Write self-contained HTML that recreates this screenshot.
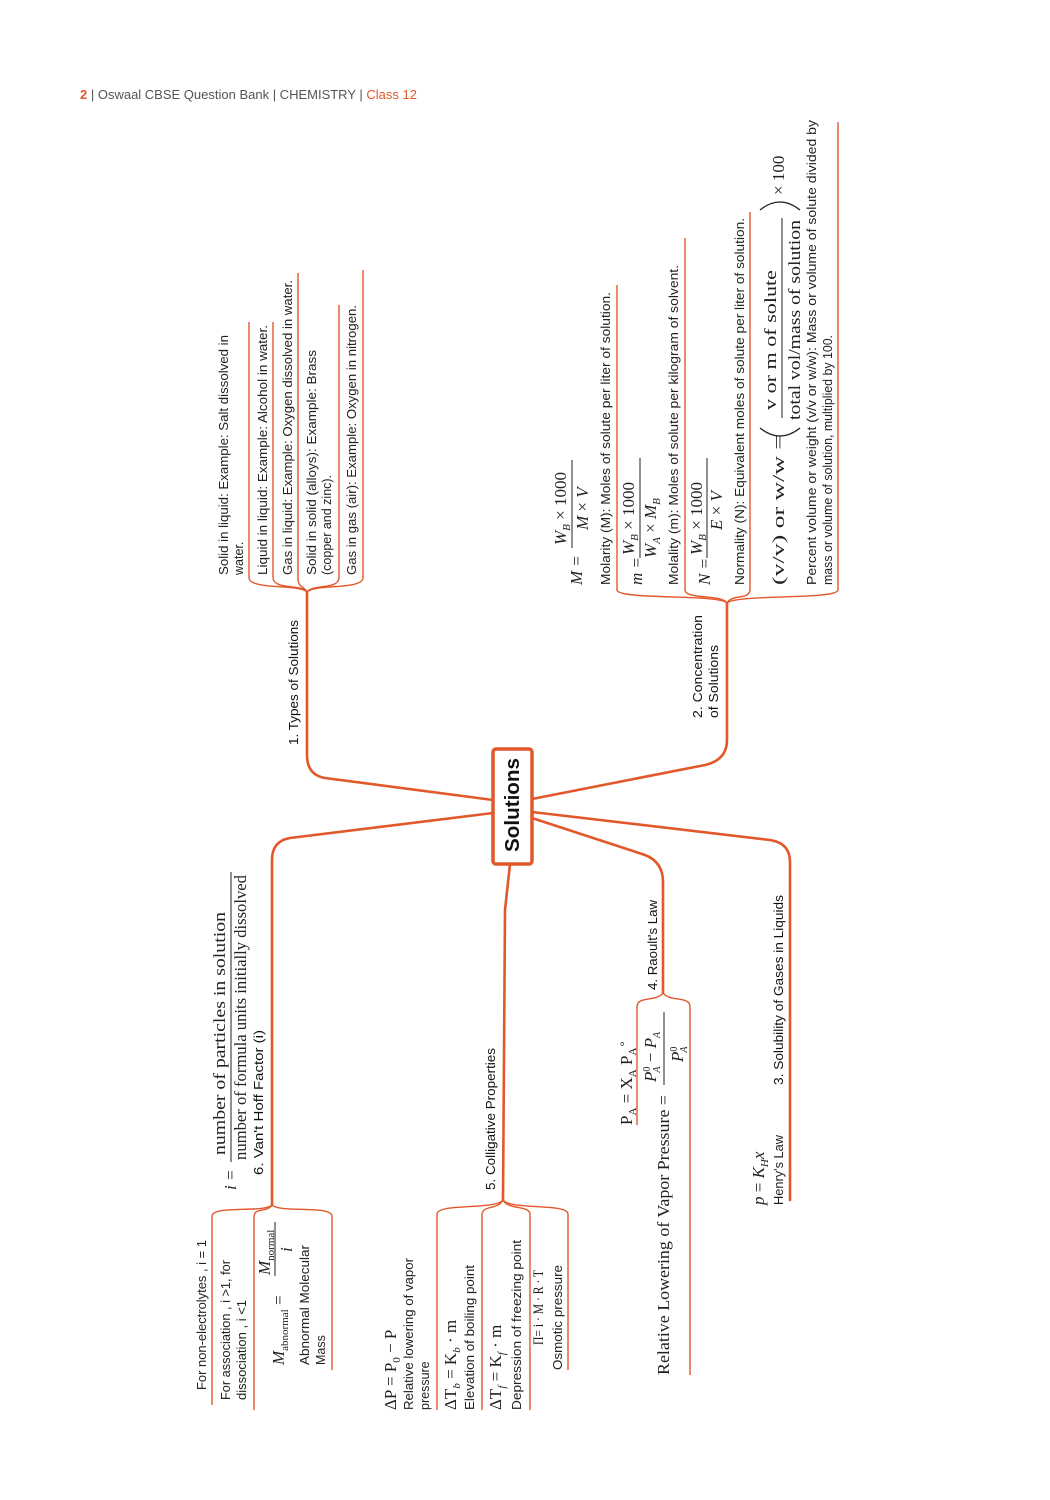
<!DOCTYPE html>
<html><head><meta charset="utf-8"><style>
body{margin:0;background:#fff;}
svg{display:block;}
.s{font-family:"Liberation Sans",sans-serif;font-size:12.5px;fill:#222;}
.b{font-family:"Liberation Sans",sans-serif;font-size:13px;fill:#111;}
.m{font-family:"Liberation Serif",serif;font-size:17px;fill:#222;}
.mi{font-family:"Liberation Serif",serif;font-size:17px;font-style:italic;fill:#222;}
.c{fill:none;stroke:#e2582b;stroke-width:2.6;stroke-linecap:round;}
.t{fill:none;stroke:#e2582b;stroke-width:1.4;}
.bar{stroke:#222;stroke-width:1;}
</style></head><body>
<svg width="1050" height="1500" viewBox="0 0 1050 1500" xmlns="http://www.w3.org/2000/svg">
<text x="80" y="99" font-family="Liberation Sans,sans-serif" font-size="13" fill="#555"><tspan fill="#e2582b" font-weight="bold">2</tspan> | Oswaal CBSE Question Bank | CHEMISTRY | <tspan fill="#e2582b">Class 12</tspan></text>

<path class="c" d="M493 800 L325 778 Q307 775 307 755 L307 592"/>
<path class="c" d="M493 813 L290 838 Q272 841 272 860 L272 1205"/>
<path class="c" d="M532 799 L705 765 Q727 760 727 740 L727 603"/>
<path class="c" d="M532 812 L770 840 Q790 843 790 862 L790 1200"/>
<path class="c" d="M532 818 L645 855 Q663 862 663 882 L663 993"/>
<path class="c" d="M510 864 L505 910 L503 1200"/>

<rect x="493" y="749" width="39" height="115" rx="3" fill="#fff" stroke="#e2582b" stroke-width="3.5"/>
<text transform="translate(519 852) rotate(-90)" font-family="Liberation Sans,sans-serif" font-weight="bold" font-size="20" fill="#111" textLength="94" lengthAdjust="spacingAndGlyphs">Solutions</text>

<text class="b" transform="translate(298 745) rotate(-90)" textLength="125" lengthAdjust="spacingAndGlyphs">1. Types of Solutions</text>
<g class="t">
<path d="M307 592 C300 584 250 590 249 578 L249 322"/>
<path d="M307 592 C302 584 274 590 273 578 L273 322"/>
<path d="M307 592 C304 586 298 588 298 578 L298 273"/>
<path d="M307 592 C312 584 338 590 339 578 L339 305"/>
<path d="M307 592 C314 584 362 590 363 578 L363 270"/>
</g>
<text class="s" transform="translate(228 575) rotate(-90)" textLength="240" lengthAdjust="spacingAndGlyphs">Solid in liquid: Example: Salt dissolved in</text>
<text class="s" transform="translate(243 575) rotate(-90)">water.</text>
<text class="s" transform="translate(267 575) rotate(-90)" textLength="250" lengthAdjust="spacingAndGlyphs">Liquid in liquid: Example: Alcohol in water.</text>
<text class="s" transform="translate(292 575) rotate(-90)" textLength="295" lengthAdjust="spacingAndGlyphs">Gas in liquid: Example: Oxygen dissolved in water.</text>
<text class="s" transform="translate(316 575) rotate(-90)" textLength="225" lengthAdjust="spacingAndGlyphs">Solid in solid (alloys): Example: Brass</text>
<text class="s" transform="translate(331 575) rotate(-90)">(copper and zinc).</text>
<text class="s" transform="translate(356 575) rotate(-90)" textLength="270" lengthAdjust="spacingAndGlyphs">Gas in gas (air): Example: Oxygen in nitrogen.</text>

<text class="b" transform="translate(702 718) rotate(-90)" textLength="103" lengthAdjust="spacingAndGlyphs">2. Concentration</text>
<text class="b" transform="translate(718 718) rotate(-90)" textLength="73" lengthAdjust="spacingAndGlyphs">of Solutions</text>
<g class="t">
<path d="M727 603 C720 594 618 600 617 590 L617 285"/>
<path d="M727 603 C722 594 686 600 685 590 L685 238"/>
<path d="M727 603 C732 594 749 600 750 590 L750 212"/>
<path d="M727 603 C736 594 837 600 838 590 L838 122"/>
</g>
<text class="mi" transform="translate(582 585) rotate(-90)">M =</text>
<text class="mi" transform="translate(566 545) rotate(-90)">W<tspan font-size="11" dy="4">B</tspan><tspan dy="-4" font-style="normal"> × 1000</tspan></text>
<line class="bar" x1="572" y1="548" x2="572" y2="460"/>
<text class="mi" transform="translate(588 530) rotate(-90)">M <tspan font-style="normal">×</tspan> V</text>
<text class="s" transform="translate(610 585) rotate(-90)" textLength="293" lengthAdjust="spacingAndGlyphs">Molarity (M): Moles of solute per liter of solution.</text>
<text class="mi" transform="translate(642 585) rotate(-90)">m =</text>
<text class="mi" transform="translate(634 555) rotate(-90)">W<tspan font-size="11" dy="4">B</tspan><tspan dy="-4" font-style="normal"> × 1000</tspan></text>
<line class="bar" x1="640" y1="558" x2="640" y2="458"/>
<text class="mi" transform="translate(656 558) rotate(-90)">W<tspan font-size="11" dy="4">A</tspan><tspan dy="-4" font-style="normal"> × </tspan>M<tspan font-size="11" dy="4">B</tspan></text>
<text class="s" transform="translate(678 585) rotate(-90)" textLength="320" lengthAdjust="spacingAndGlyphs">Molality (m): Moles of solute per kilogram of solvent.</text>
<text class="mi" transform="translate(710 585) rotate(-90)">N =</text>
<text class="mi" transform="translate(702 555) rotate(-90)">W<tspan font-size="11" dy="4">B</tspan><tspan dy="-4" font-style="normal"> × 1000</tspan></text>
<line class="bar" x1="707" y1="558" x2="707" y2="458"/>
<text class="mi" transform="translate(722 530) rotate(-90)">E <tspan font-style="normal">×</tspan> V</text>
<text class="s" transform="translate(744 585) rotate(-90)" textLength="367" lengthAdjust="spacingAndGlyphs">Normality (N): Equivalent moles of solute per liter of solution.</text>
<text class="m" transform="translate(784 585) rotate(-90)" textLength="150" lengthAdjust="spacingAndGlyphs">(v/v) or w/w =</text>
<path d="M760 428 Q780 444 800 428" fill="none" stroke="#222" stroke-width="1.3"/>
<text class="m" transform="translate(776 410) rotate(-90)" textLength="140" lengthAdjust="spacingAndGlyphs">v or m of solute</text>
<line class="bar" x1="782" y1="418" x2="782" y2="218"/>
<text class="m" transform="translate(800 420) rotate(-90)" textLength="200" lengthAdjust="spacingAndGlyphs">total vol/mass of solution</text>
<path d="M760 210 Q780 194 800 210" fill="none" stroke="#222" stroke-width="1.3"/>
<text class="m" transform="translate(784 195) rotate(-90)">× 100</text>
<text class="s" transform="translate(816 585) rotate(-90)" textLength="465" lengthAdjust="spacingAndGlyphs">Percent  volume or weight (v/v or w/w): Mass or volume of solute divided by</text>
<text class="s" transform="translate(832 585) rotate(-90)" textLength="250" lengthAdjust="spacingAndGlyphs">mass or volume of solution, multiplied by 100.</text>

<text class="b" transform="translate(263 1175) rotate(-90)" textLength="145" lengthAdjust="spacingAndGlyphs">6. Van't Hoff Factor (i)</text>
<text class="mi" transform="translate(236 1190) rotate(-90)">i =</text>
<text class="m" transform="translate(225 1155) rotate(-90)" textLength="243" lengthAdjust="spacingAndGlyphs">number of particles in solution</text>
<line class="bar" x1="231" y1="1162" x2="231" y2="872"/>
<text class="m" transform="translate(246 1160) rotate(-90)" textLength="285" lengthAdjust="spacingAndGlyphs">number of formula units initially dissolved</text>
<g class="t">
<path d="M272 1205 C265 1213 213 1205 212 1216 L212 1405"/>
<path d="M272 1205 C267 1213 255 1207 254 1216 L254 1410"/>
<path d="M272 1205 C279 1213 331 1205 332 1216 L332 1370"/>
</g>
<text class="s" transform="translate(206 1390) rotate(-90)" textLength="150" lengthAdjust="spacingAndGlyphs">For non-electrolytes , i = 1</text>
<text class="s" transform="translate(230 1400) rotate(-90)" textLength="140" lengthAdjust="spacingAndGlyphs">For association , i &gt;1, for</text>
<text class="s" transform="translate(246 1400) rotate(-90)" textLength="100" lengthAdjust="spacingAndGlyphs">dissociation , i &lt;1</text>
<text class="mi" transform="translate(284 1365) rotate(-90)">M<tspan font-size="11" font-style="normal" dy="4">abnormal</tspan><tspan dy="-4" font-style="normal"> =</tspan></text>
<text class="mi" transform="translate(270 1275) rotate(-90)">M<tspan font-size="11" font-style="normal" dy="4">normal</tspan></text>
<line class="bar" x1="275" y1="1276" x2="275" y2="1222"/>
<text class="mi" transform="translate(292 1252) rotate(-90)">i</text>
<text class="s" transform="translate(309 1365) rotate(-90)" textLength="120" lengthAdjust="spacingAndGlyphs">Abnormal Molecular</text>
<text class="s" transform="translate(325 1365) rotate(-90)">Mass</text>

<text class="b" transform="translate(495 1190) rotate(-90)" textLength="142" lengthAdjust="spacingAndGlyphs">5. Colligative Properties</text>
<g class="t">
<path d="M503 1200 C496 1210 438 1203 437 1214 L437 1410"/>
<path d="M503 1200 C498 1210 483 1205 482 1214 L482 1410"/>
<path d="M503 1200 C508 1210 529 1205 530 1214 L530 1410"/>
<path d="M503 1200 C510 1210 567 1203 568 1214 L568 1370"/>
</g>
<text class="m" transform="translate(396 1410) rotate(-90)">ΔP = P<tspan font-size="11" dy="4">0</tspan><tspan dy="-4"> − P</tspan></text>
<text class="s" transform="translate(413 1410) rotate(-90)" textLength="152" lengthAdjust="spacingAndGlyphs">Relative lowering of vapor</text>
<text class="s" transform="translate(429 1410) rotate(-90)">pressure</text>
<text class="m" transform="translate(456 1410) rotate(-90)">ΔT<tspan font-size="11" font-style="italic" dy="4">b</tspan><tspan dy="-4"> = K</tspan><tspan font-size="11" font-style="italic" dy="4">b</tspan><tspan dy="-4"> · m</tspan></text>
<text class="s" transform="translate(474 1410) rotate(-90)" textLength="145" lengthAdjust="spacingAndGlyphs">Elevation of boiling point</text>
<text class="m" transform="translate(501 1410) rotate(-90)">ΔT<tspan font-size="11" font-style="italic" dy="4">f</tspan><tspan dy="-4"> = K</tspan><tspan font-size="11" font-style="italic" dy="4">f</tspan><tspan dy="-4"> · m</tspan></text>
<text class="s" transform="translate(521 1410) rotate(-90)" textLength="170" lengthAdjust="spacingAndGlyphs">Depression of freezing point</text>
<text class="m" style="font-size:15px" transform="translate(543 1345) rotate(-90)" textLength="75" lengthAdjust="spacingAndGlyphs">Π= i · M · R · T</text>
<text class="s" transform="translate(562 1370) rotate(-90)" textLength="105" lengthAdjust="spacingAndGlyphs">Osmotic pressure</text>

<text class="b" transform="translate(657 990) rotate(-90)" textLength="90" lengthAdjust="spacingAndGlyphs">4. Raoult's Law</text>
<g class="t">
<path d="M663 993 C656 1002 638 996 637 1006 L637 1125"/>
<path d="M663 993 C670 1002 689 996 690 1006 L690 1375"/>
</g>
<text class="m" transform="translate(632 1125) rotate(-90)">P<tspan font-size="11" dy="4">A</tspan><tspan dy="-4"> = X</tspan><tspan font-size="11" dy="4">A</tspan><tspan dy="-4"> P</tspan><tspan font-size="11" dy="4">A</tspan><tspan font-size="12" dy="-10">∘</tspan></text>
<text class="m" transform="translate(669 1375) rotate(-90)" textLength="280" lengthAdjust="spacingAndGlyphs">Relative Lowering of Vapor Pressure =</text>
<text class="mi" transform="translate(656 1082) rotate(-90)">P<tspan font-size="10" font-style="normal" dy="-6">0</tspan><tspan font-size="10" dx="-6" dy="10">A</tspan><tspan font-style="normal" dy="-4"> − </tspan>P<tspan font-size="10" dy="4">A</tspan></text>
<line class="bar" x1="664" y1="1085" x2="664" y2="1012"/>
<text class="mi" transform="translate(683 1062) rotate(-90)">P<tspan font-size="10" font-style="normal" dy="-6">0</tspan><tspan font-size="10" dx="-6" dy="10">A</tspan></text>

<text class="b" transform="translate(783 1085) rotate(-90)" textLength="190" lengthAdjust="spacingAndGlyphs">3. Solubility of Gases in Liquids</text>
<text class="mi" transform="translate(764 1205) rotate(-90)">p <tspan font-style="normal">=</tspan> K<tspan font-size="11" dy="4">H</tspan><tspan dy="-4">x</tspan></text>
<text class="s" transform="translate(783 1205) rotate(-90)" textLength="70" lengthAdjust="spacingAndGlyphs">Henry's Law</text>
</svg>
</body></html>
